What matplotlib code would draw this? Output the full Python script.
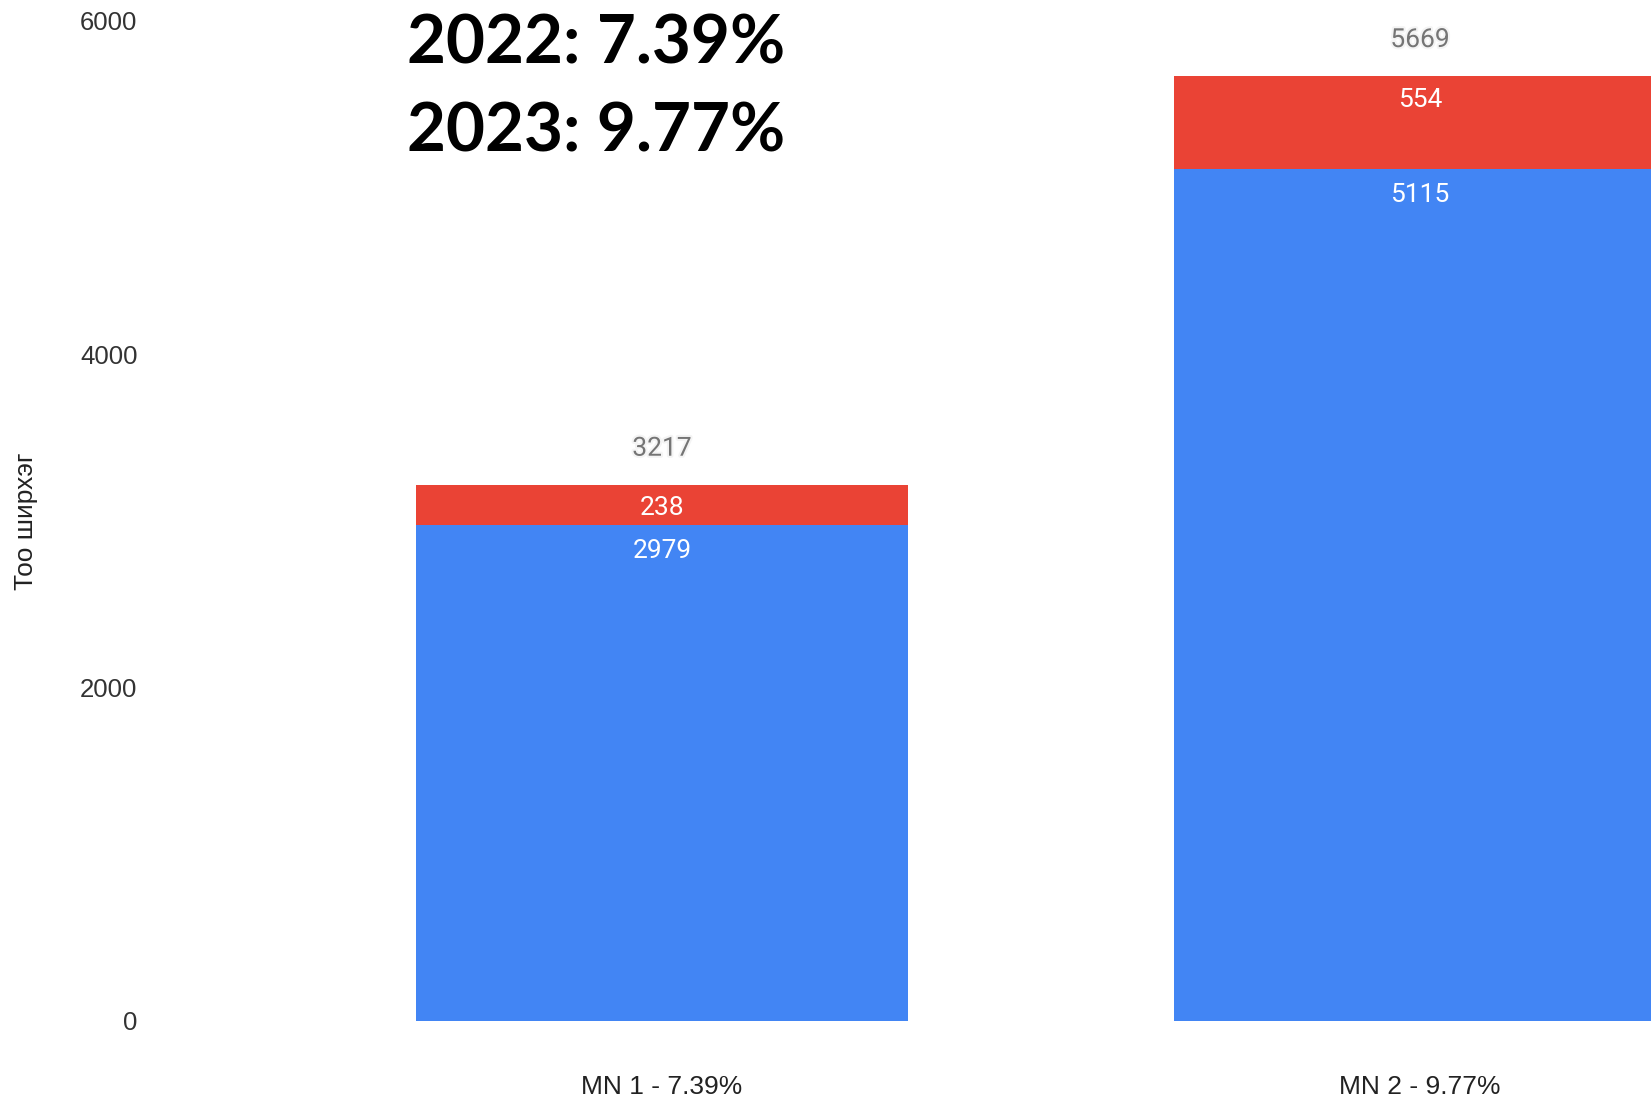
import numpy as np
import matplotlib.pyplot as plt
import matplotlib.patheffects as pe

# data
categories = ['MN 1 - 7.39%', 'MN 2 - 9.77%']
base_vals = [2979, 5115]
extra_vals = [238, 554]
totals = [3217, 5669]
headline = ['2022: 7.39%', '2023: 9.77%']
yticks = [0, 2000, 4000, 6000]

blue = '#4285F4'
red = '#EA4335'

W, H = 1651, 1099
fig = plt.figure(figsize=(W / 100, H / 100), dpi=100)
ax = fig.add_axes([150 / W, 78 / H, 1 - 150 / W, 1000 / H])

x = np.arange(len(categories))
bw = 0.65
ax.bar(x, base_vals, width=bw, color=blue, linewidth=0)
ax.bar(x, extra_vals, width=bw, bottom=base_vals, color=red, linewidth=0)

ax.set_xlim((150 - 662) / 758, (W - 662) / 758)
ax.set_ylim(0, 6000)

for s in ax.spines.values():
    s.set_visible(False)
ax.set_yticks(yticks)
ax.set_yticklabels([str(t) for t in yticks], fontsize=18.5, color='#333333',
                   family='Liberation Sans')
ax.set_xticks(x)
ax.set_xticklabels(categories, fontsize=19, color='#222222', family='Liberation Sans')
ax.tick_params(axis='y', length=0, pad=9)
ax.tick_params(axis='x', length=0, pad=39)

ax.set_ylabel('Тоо ширхэг', fontsize=19, color='#222222', family='Liberation Sans')
ax.yaxis.set_label_coords(-0.0826, 0.5)
ax.yaxis.label.set_va('center')

# segment labels just inside the top of each segment
for i in range(len(x)):
    ax.annotate(str(base_vals[i]), (x[i], base_vals[i]), xytext=(0, -19),
                textcoords='offset points', ha='center', va='center',
                color='white', fontsize=19, family='Roboto')
    ax.annotate(str(extra_vals[i]), (x[i], totals[i]), xytext=(0, -17),
                textcoords='offset points', ha='center', va='center',
                color='white', fontsize=19, family='Roboto')
    ax.annotate(str(totals[i]), (x[i], totals[i]), xytext=(0, 26),
                textcoords='offset points', ha='center', va='center',
                color='#757575', fontsize=19, family='Roboto',
                path_effects=[pe.withStroke(linewidth=3, foreground='#f4f4f4')])

# headline figures
for j, line in enumerate(headline):
    fig.text(407 / W, 1 - (44 + 88 * j) / H, line, ha='left', va='center',
             fontsize=48.5, fontweight='bold', family='Lato', color='black')

fig.savefig('out.png', dpi=100)
